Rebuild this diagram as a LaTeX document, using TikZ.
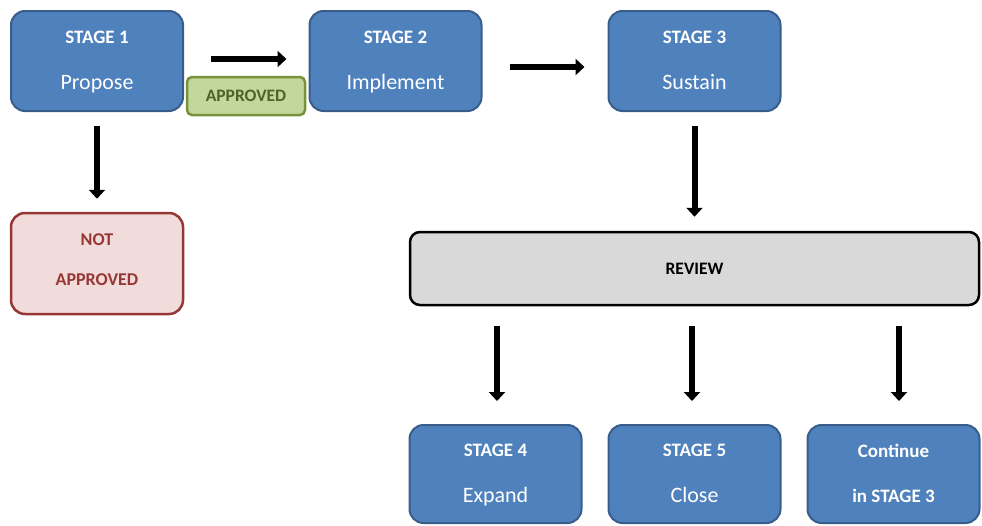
\documentclass[tikz,border=0pt]{standalone}
\usepackage{fontspec}
\setmainfont{Carlito}
\usetikzlibrary{arrows.meta}
\definecolor{bfill}{HTML}{4F81BD}
\definecolor{bdraw}{HTML}{385D8A}
\definecolor{gfill}{HTML}{C3D69B}
\definecolor{gdraw}{HTML}{77933C}
\definecolor{gtext}{HTML}{4F6228}
\definecolor{rfill}{HTML}{F2DCDB}
\definecolor{rdraw}{HTML}{953735}
\definecolor{rtext}{HTML}{953735}
\definecolor{grfill}{HTML}{D9D9D9}
\tikzset{
  stagebox/.style={draw=bdraw, fill=bfill, line width=2pt, rounded corners=14pt,
    minimum width=172pt, minimum height=100pt, text=white, align=center, inner sep=0pt,
    font=\fontsize{19}{46.5}\selectfont},
  okbox/.style={draw=gdraw, fill=gfill, line width=2.5pt, rounded corners=5pt,
    minimum width=118pt, minimum height=38pt, text=gtext, font=\bfseries\fontsize{17.5}{20}\selectfont, inner sep=0pt},
  nobox/.style={draw=rdraw, fill=rfill, line width=2.5pt, rounded corners=14pt,
    minimum width=172pt, minimum height=101pt, text=rtext, align=center, inner sep=0pt,
    font=\bfseries\fontsize{18}{40}\selectfont},
  revbox/.style={draw=black, fill=grfill, line width=2.5pt, rounded corners=10pt,
    minimum width=569pt, minimum height=73pt, font=\bfseries\fontsize{17.5}{20}\selectfont, inner sep=0pt},
  arr/.style={line width=6pt, -{Triangle[length=9pt,width=16pt]}},
}
\newcommand{\stxt}[2]{{\bfseries\rule{0pt}{17pt}#1}\\{\fontsize{22}{46.5}\selectfont\rule[-6pt]{0pt}{6pt}#2}}
\begin{document}
\begin{tikzpicture}[x=1pt,y=-1pt]
\useasboundingbox (0,0) rectangle (982,525);
\node[stagebox] (s1) at (97,61) {\stxt{STAGE 1}{Propose}};
\node[stagebox] (s2) at (395.5,61) {\stxt{STAGE 2}{Implement}};
\node[stagebox] (s3) at (694.5,61) {\stxt{STAGE 3}{Sustain}};
\node[okbox] (ok) at (246,96) {APPROVED};
\node[nobox] (no) at (97,263.5) {\rule{0pt}{16pt}NOT\\\rule[-13pt]{0pt}{13pt}APPROVED};
\node[revbox] (rev) at (694.5,268.5) {REVIEW};
\node[stagebox, minimum height=98pt] (s4) at (495.5,474) {\stxt{STAGE 4}{Expand}};
\node[stagebox, minimum height=98pt] (s5) at (694.5,474) {\stxt{STAGE 5}{Close}};
\node[stagebox, minimum height=98pt, font=\bfseries\fontsize{19}{45}\selectfont] (c3) at (893.5,474) {\rule{0pt}{17pt}Continue\\\rule[-6pt]{0pt}{6pt}in STAGE 3};

\draw[arr, shorten <=27pt, shorten >=22pt] ([yshift=2pt]s1.east) -- ([yshift=2pt]s2.west);
\draw[arr, shorten <=27pt, shorten >=23pt] ([yshift=-6pt]s2.east) -- ([yshift=-6pt]s3.west);
\draw[arr, shorten <=14pt, shorten >=13pt] (s1.south) -- (no.north);
\draw[arr, shorten <=14pt, shorten >=14pt] (s3.south) -- (s3.south |- rev.north);
\draw[arr, shorten <=20pt, shorten >=23pt] ([xshift=1.5pt]s4.north |- rev.south) -- ([xshift=1.5pt]s4.north);
\draw[arr, shorten <=20pt, shorten >=23pt] ([xshift=-2.5pt]s5.north |- rev.south) -- ([xshift=-2.5pt]s5.north);
\draw[arr, shorten <=20pt, shorten >=23pt] ([xshift=5.5pt]c3.north |- rev.south) -- ([xshift=5.5pt]c3.north);
\end{tikzpicture}
\end{document}
